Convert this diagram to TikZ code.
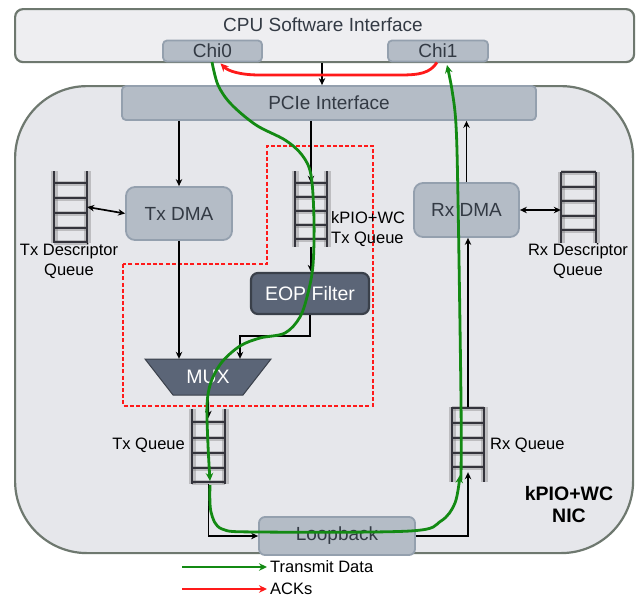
\documentclass[tikz,border=0pt]{standalone}
\usepackage{fontspec}
\setmainfont{Liberation Sans}
\usetikzlibrary{arrows.meta,calc}
\definecolor{frameC}{HTML}{6E786F}
\definecolor{outerF}{HTML}{EEEEF1}
\definecolor{nicF}{HTML}{E6E7EB}
\definecolor{boxF}{HTML}{B4BCC6}
\definecolor{boxD}{HTML}{94A0AE}
\definecolor{darkF}{HTML}{5B6577}
\definecolor{darkD}{HTML}{3A404A}
\definecolor{txtC}{HTML}{333A44}
\definecolor{grnC}{HTML}{138A13}
\definecolor{redC}{HTML}{FF1A1A}
\definecolor{postC}{HTML}{34343C}
\newcommand\qladder[5]{%
  \foreach \r in {#5} {\draw[line width=5pt, gray, opacity=.4] (#1,\r) -- (#2,\r);}
  \draw[line width=7pt, gray, opacity=.4] (#1,#3) -- (#1,#4);
  \draw[line width=7pt, gray, opacity=.4] (#2,#3) -- (#2,#4);
  \foreach \r in {#5} {\draw[line width=2.2pt, postC] (#1,\r) -- (#2,\r);}
  \draw[line width=2.8pt, postC] (#1,#3) -- (#1,#4);
  \draw[line width=2.8pt, postC] (#2,#3) -- (#2,#4);
}
\begin{document}
\begin{tikzpicture}[x=1pt,y=-1pt,
  outerbox/.style={draw=frameC, line width=2.2pt, fill=outerF, anchor=north west, inner sep=0pt},
  lightbox/.style={draw=boxD, line width=1.8pt, fill=boxF, rounded corners=4pt, inner sep=0pt,
     text=txtC, font=\fontsize{19}{22}\selectfont},
  dmabox/.style={lightbox, rounded corners=9pt},
  darkbox/.style={draw=darkD, line width=2.2pt, fill=darkF, rounded corners=7pt, inner sep=0pt,
     text=white, font=\fontsize{19.5}{22}\selectfont},
  qnode/.style={draw=none, inner sep=0pt},
  lbl/.style={font=\fontsize{16.5}{19.5}\selectfont, text=black, inner sep=0pt, align=center},
  arr/.style={line width=1.7pt, black, -{Stealth[length=7pt,width=6.5pt]}},
  darr/.style={line width=1.7pt, black, {Stealth[length=7pt,width=6.5pt]}-{Stealth[length=7pt,width=6.5pt]}},
  garr/.style={line width=2.8pt, grnC, -{Stealth[length=8pt,width=7.5pt]}},
  rarr/.style={line width=2.8pt, redC, -{Stealth[length=8pt,width=7.5pt]}}]
\useasboundingbox (0,0) rectangle (637,603);
\fill[white] (0,0) rectangle (637,603);

% CPU interface
\node[outerbox, rounded corners=8pt, minimum width=619pt, minimum height=53pt] (cpu) at (14,8) {};
\node[font=\fontsize{19}{22}\selectfont, text=txtC, inner sep=0pt] (cputxt) at (323,25) {CPU Software Interface};
\node[lightbox, minimum width=99pt, minimum height=21pt] (chi0) at (212.5,51) {Chi0};
\node[lightbox, minimum width=100pt, minimum height=21pt] (chi1) at (438,51) {Chi1};

% NIC
\node[outerbox, fill=nicF, rounded corners=72pt, minimum width=618pt, minimum height=467pt] (nic) at (14,85) {};
\node[lightbox, minimum width=414pt, minimum height=34pt] (pcie) at (329,103) {PCIe Interface};

% red dashed region
\draw[redC, dash pattern=on 4pt off 2.2pt, line width=1.2pt] (123,264) -- (123,406) -- (373,406) -- (373,146) -- (267,146) -- (267,264) -- cycle;

% DMA boxes
\node[dmabox, minimum width=106pt, minimum height=53pt] (txdma) at (179,213.5) {Tx DMA};
\node[dmabox, minimum width=105pt, minimum height=54pt] (rxdma) at (466.5,210) {Rx DMA};
\node[darkbox, minimum width=118pt, minimum height=41pt] (eop) at (310,293.5) {EOP Filter};

% MUX
\fill[darkF] (145,359) -- (271,359) -- (243,395) -- (173,395) -- cycle;
\draw[darkD, line width=1pt] (145,359) -- (271,359) -- (243,395) -- (173,395) -- cycle;
\node[qnode, minimum width=126pt, minimum height=36pt, text=white, font=\fontsize{19.5}{22}\selectfont] (mux) at (208,377) {MUX};

% Loopback
\node[lightbox, rounded corners=6pt, minimum width=156pt, minimum height=38pt] (loop) at (337,536) {Loopback};

% queues
\qladder{54}{87}{171}{243}{183,198,213,228,242}
\node[qnode, minimum width=33pt, minimum height=72pt] (txdq) at (70.5,207) {};
\qladder{295}{327}{171}{247}{183,197,211,225,239}
\node[qnode, minimum width=32pt, minimum height=76pt] (kq) at (311,209) {};
\qladder{561}{596}{172}{243}{172,187,201,216,230}
\node[qnode, minimum width=35pt, minimum height=71pt] (rxdq) at (578.5,207.5) {};
\qladder{192}{225}{409}{484}{422,438,453,468,482}
\node[qnode, minimum width=33pt, minimum height=75pt] (txq) at (208.5,446.5) {};
\qladder{452}{484}{407}{482}{408,423,438,453,467}
\node[qnode, minimum width=32pt, minimum height=75pt] (rxq) at (468,444.5) {};

% labels
\node[lbl] (ltxdq) at (69,261) {Tx Descriptor\\Queue};
\node[lbl, align=left, anchor=west] (lkq) at (331,229) {kPIO+WC\\Tx Queue};
\node[lbl] (lrxdq) at (578,261) {Rx Descriptor\\Queue};
\node[lbl, anchor=east] (ltxq) at (185,445) {Tx Queue};
\node[lbl, anchor=west] (lrxq) at (490,445) {Rx Queue};
\node[lbl, font=\bfseries\fontsize{19.5}{22}\selectfont] (lnic) at (569,505) {kPIO+WC\\NIC};

% black connectors
\draw[arr] (cpu.south -| 322,0) -- (pcie.north -| 322,0);
\draw[arr] (txdma.north |- pcie.south) -- (txdma.north);
\draw[arr] (kq.north |- pcie.south) -- ($(kq.north)+(0,12)$);
\draw[arr] (kq.south) -- (kq.south |- eop.north);
\draw[darr] (txdq.east) -- (txdma.west);
\draw[darr] (rxdma.east) -- (rxdq.west |- rxdma.east);
\draw[arr] (txdma.south) -- (txdma.south |- mux.north);
\draw[arr] (eop.south) -- ++(0,21) -| ($(mux.north)+(32,0)$);
\draw[arr] (mux.south) -- ($(txq.north)+(0,9)$);
\draw[arr] (txq.south) |- (loop.west);
\draw[arr] (loop.east) -| ($(rxq.south)+(0,-10)$);
\draw[arr] (rxq.north) -- (rxq.north |- rxdma.south);
\draw[arr] (rxdma.north) -- (rxdma.north |- pcie.south);

% ACK (red)
\draw[rarr] ($(chi1.south)+(-1,0)$) .. controls (430,73) and (420,75) .. (400,75) -- (260,75) .. controls (240,75) and (228,71) .. ($(chi0.south)+(8,1)$);

% Transmit data (green)
\draw[garr] plot[smooth, tension=0.55] coordinates {(212,62) (218,85) (231,104) (256,125) (285,140) (302,155) (311,175) (314,220) (313,265) (308,293) (300,317) (285,333) (260,338) (240,346) (222,362) (211,382) (207,405) (208,445) (210,481)};
\draw[garr] plot[smooth, tension=0.55] coordinates {(210,485) (211,512) (222,529) (260,532) (410,531) (441,521) (455,503) (460,475)};
\draw[garr] plot[smooth, tension=0.55] coordinates {(461,480) (461,400) (458,200) (456,125) (452,90) (447,65)};

% legend
\coordinate (lg1a) at (182,567);
\coordinate (lg1b) at (267,567);
\coordinate (lg2a) at (182,589);
\coordinate (lg2b) at (267,589);
\draw[garr] (lg1a) -- (lg1b);
\draw[rarr] (lg2a) -- (lg2b);
\node[lbl, anchor=west] (lgt1) at (270,567) {Transmit Data};
\node[lbl, anchor=west] (lgt2) at (270,589) {ACKs};
\end{tikzpicture}
\end{document}
